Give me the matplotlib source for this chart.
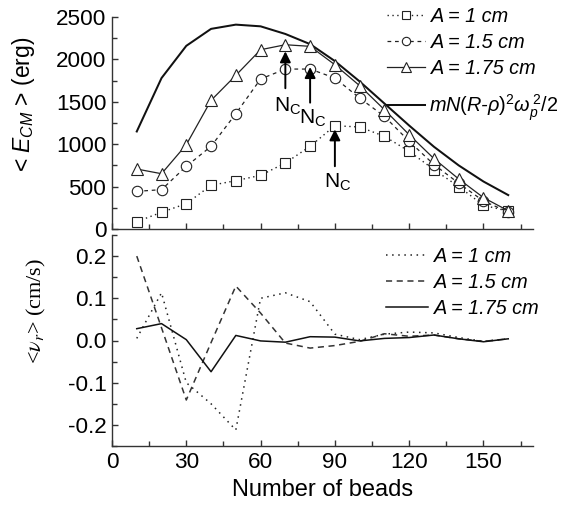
import matplotlib
matplotlib.use("Agg")
import matplotlib.pyplot as plt
import numpy as np

plt.rcParams['font.family'] = ['Liberation Sans', 'DejaVu Sans']
plt.rcParams['mathtext.fontset'] = 'custom'
plt.rcParams['mathtext.rm'] = 'Liberation Sans'
plt.rcParams['mathtext.it'] = 'Liberation Sans:italic'
plt.rcParams['mathtext.bf'] = 'Liberation Sans:bold'

# ---------------- data ----------------
beads = [10, 20, 30, 40, 50, 60, 70, 80, 90, 100, 110, 120, 130, 140, 150, 160]

E_A1 = [86, 197, 299, 515, 570, 633, 778, 975, 1218, 1203, 1093, 916, 700, 500, 280, 210]
E_A15 = [444, 464, 739, 975, 1360, 1769, 1886, 1886, 1780, 1544, 1328, 1034, 760, 540, 330, 200]
E_A175 = [707, 652, 994, 1517, 1812, 2114, 2173, 2154, 1937, 1690, 1407, 1112, 830, 590, 370, 215]
E_theory = [1150, 1780, 2160, 2360, 2410, 2390, 2300, 2180, 1980, 1740, 1480, 1220, 970, 750, 560, 400]

v_A1 = [0.005, 0.113, -0.100, -0.150, -0.212, 0.100, 0.113, 0.092, 0.015, 0.002, 0.015, 0.020, 0.018, 0.007, -0.002, 0.004]
v_A15 = [0.200, 0.030, -0.141, -0.005, 0.129, 0.065, -0.006, -0.018, -0.012, -0.002, 0.016, 0.010, 0.013, 0.004, -0.002, 0.004]
v_A175 = [0.028, 0.040, 0.002, -0.074, 0.012, -0.001, -0.004, 0.009, 0.008, -0.001, 0.005, 0.007, 0.013, 0.004, -0.003, 0.004]

labels = ['A = 1 cm', 'A = 1.5 cm', 'A = 1.75 cm']
theory_label = r'$mN(R$-$\rho)^2\omega_p^{\,2}/2$'

# N_C annotations: x, arrow tip, arrow tail, text y
nc_x = [70, 80, 90]
nc_tip = [2095, 1910, 1175]
nc_tail = [1660, 1490, 740]
nc_text_y = [1450, 1310, 545]

xticks = [0, 30, 60, 90, 120, 150]

# ---------------- figure ----------------
W, H = 572, 505
fig = plt.figure(figsize=(W / 100, H / 100), dpi=100)
left, right = 112 / W, 533 / W
ax1 = fig.add_axes([left, 1 - 229 / H, right - left, 212 / H])
ax2 = fig.add_axes([left, 1 - 446 / H, right - left, 211 / H])

spine_col = '#333333'
for ax in (ax1, ax2):
    for s in ('top', 'right'):
        ax.spines[s].set_visible(False)
    for s in ('left', 'bottom'):
        ax.spines[s].set_color(spine_col)
        ax.spines[s].set_linewidth(1.0)
    ax.set_xlim(0, 170)
    ax.set_xticks(xticks)
    ax.set_xticks(np.arange(0, 171, 15), minor=True)
    ax.tick_params(which='both', direction='in', color=spine_col, labelsize=16.2)
    ax.tick_params(which='major', length=4.5, width=1, pad=4)
    ax.tick_params(which='minor', length=3.5, width=1)
    ax.patch.set_alpha(0)

# top panel
ax1.set_ylim(0, 2500)
ax1.set_yticks(np.arange(0, 2501, 500))
ax1.set_yticks(np.arange(0, 2501, 250), minor=True)
ax1.tick_params(axis='x', labelbottom=False)

lc = '#222222'
l1, = ax1.plot(beads, E_A1, linestyle=(0, (1, 2.5)), color=lc, lw=1.0,
               marker='s', ms=6.5, mfc='white', mec=lc, mew=0.8, label=labels[0], zorder=3)
l2, = ax1.plot(beads, E_A15, linestyle=(0, (3, 3)), color=lc, lw=0.9,
               marker='o', ms=7.5, mfc='white', mec=lc, mew=0.8, label=labels[1], zorder=3)
l3, = ax1.plot(beads, E_A175, linestyle='-', color=lc, lw=0.9,
               marker='^', ms=9, mfc='white', mec=lc, mew=0.8, label=labels[2], zorder=3)
l4, = ax1.plot(beads, E_theory, linestyle='-', color='#111111', lw=1.45, label=theory_label,
               zorder=2)

for x, tip, tail, ty in zip(nc_x, nc_tip, nc_tail, nc_text_y):
    ax1.annotate('', xy=(x, tip), xytext=(x, tail),
                 arrowprops=dict(arrowstyle='-|>', color='black', lw=1.4,
                                 mutation_scale=16, shrinkA=0, shrinkB=0))
    ax1.text(x + 1, ty, r'N$_\mathregular{C}$', fontsize=15, ha='center', va='center')

leg_prop = {'family': 'Liberation Sans', 'style': 'italic', 'size': 14.3}
legA = ax1.legend(handles=[l1, l2, l3], labels=labels, loc='upper left',
                  bbox_to_anchor=(387 / W, 1 - 7 / H), bbox_transform=fig.transFigure,
                  frameon=False, prop=leg_prop, handlelength=1.9, handletextpad=0.3,
                  labelspacing=0.36, borderpad=0, borderaxespad=0, markerscale=0.8)
ax1.add_artist(legA)
ax1.legend(handles=[l4], labels=[theory_label], loc='upper left',
           bbox_to_anchor=(387 / W, 1 - 92 / H), bbox_transform=fig.transFigure,
           frameon=False, prop=leg_prop, handlelength=1.9, handletextpad=0.2,
           borderpad=0, borderaxespad=0)

ax1.set_ylabel(r'< $E_{CM}$ > (erg)', fontsize=16.5)
ax1.yaxis.set_label_coords(-0.178, 0.59)

# bottom panel
ax2.set_ylim(-0.25, 0.25)
ax2.set_yticks([-0.2, -0.1, 0.0, 0.1, 0.2])
ax2.set_yticks(np.arange(-0.25, 0.251, 0.05), minor=True)
ax2.set_yticklabels(['-0.2', '-0.1', '0.0', '0.1', '0.2'])

m1, = ax2.plot(beads, v_A1, linestyle=(0, (1, 3)), color='#222222', lw=1.1, label=labels[0])
m2, = ax2.plot(beads, v_A15, linestyle=(0, (4, 3)), color='#333333', lw=1.1, label=labels[1])
m3, = ax2.plot(beads, v_A175, linestyle='-', color='#111111', lw=1.1, label=labels[2])
ax2.legend(handles=[m1, m2, m3], labels=labels, loc='upper left',
           bbox_to_anchor=(386 / W, 1 - 247 / H), bbox_transform=fig.transFigure,
           frameon=False, prop=leg_prop, handlelength=2.1, handletextpad=0.3,
           labelspacing=0.36, borderpad=0, borderaxespad=0)

ax2.set_ylabel(r'<$\nu_r$> (cm/s)', fontsize=16, family='Liberation Serif',
               math_fontfamily='stix')
ax2.yaxis.set_label_coords(-0.152, 0.64)
ax2.set_xlabel('Number of beads', fontsize=17, labelpad=5)

fig.savefig('out.png', dpi=100)
